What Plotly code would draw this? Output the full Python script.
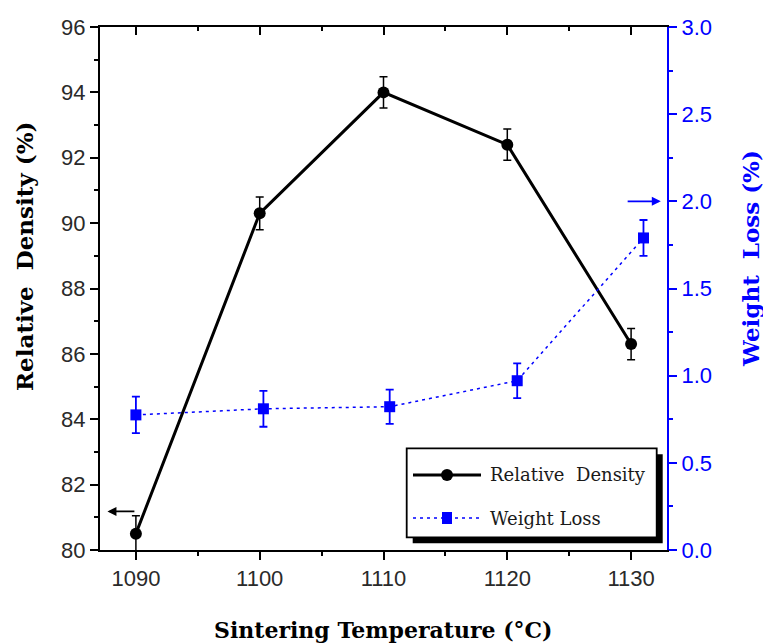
import plotly.graph_objects as go

# ---- data ----
temps_density = [1090, 1100, 1110, 1120, 1130]
density = [80.5, 90.3, 94.0, 92.4, 86.3]
density_err = [0.55, 0.5, 0.48, 0.48, 0.48]

temps_weight = [1090, 1100.3, 1110.5, 1120.8, 1131.0]
weight_loss = [0.775, 0.81, 0.822, 0.971, 1.79]
weight_err = [0.105, 0.103, 0.098, 0.1, 0.103]

x_ticks = [1090, 1100, 1110, 1120, 1130]
left_ticks = [80, 82, 84, 86, 88, 90, 92, 94, 96]
right_ticks = [0.0, 0.5, 1.0, 1.5, 2.0, 2.5, 3.0]

series_names = ["Relative  Density", "Weight Loss"]

# ---- geometry ----
W, H = 763, 643
L, R, T, B = 100, 96, 27, 93
PW, PH = W - L - R, H - T - B


def px(xp):
    return (xp - L) / PW


def py(yp):
    return (H - B - yp) / PH


BLUE = "#0000ff"
TICKFONT = dict(family="Liberation Sans, Arial, sans-serif", size=22, color="#2a2a2a")
TITLEFONT = "DejaVu Serif, serif"

fig = go.Figure()

fig.add_trace(go.Scatter(
    x=temps_weight, y=weight_loss, yaxis="y2", mode="lines+markers",
    name=series_names[1],
    line=dict(color=BLUE, width=1.5, dash="3px,4px"),
    marker=dict(symbol="square", size=11, color=BLUE),
    error_y=dict(type="data", array=weight_err, visible=True, color=BLUE, thickness=1.8, width=4),
    showlegend=False,
))

fig.add_trace(go.Scatter(
    x=temps_density, y=density, mode="lines+markers",
    name=series_names[0],
    line=dict(color="black", width=3),
    marker=dict(symbol="circle", size=12, color="black"),
    error_y=dict(type="data", array=density_err, visible=True, color="black", thickness=1.5, width=4),
    showlegend=False,
))

# invisible trace to anchor the top axis
fig.add_trace(go.Scatter(x=[x_ticks[0]], y=[left_ticks[0]], xaxis="x2", mode="markers",
                         marker=dict(opacity=0), showlegend=False, hoverinfo="skip"))

xr = [1087.1, 1132.9]

fig.update_layout(
    width=W, height=H,
    margin=dict(l=L, r=R, t=T, b=B),
    paper_bgcolor="white", plot_bgcolor="white",
    showlegend=False,
    xaxis=dict(
        range=xr, tickvals=x_ticks, ticks="outside", ticklen=8, tickwidth=1.5,
        tickcolor="black", showline=True, linecolor="black", linewidth=2,
        showgrid=False, zeroline=False, tickfont=TICKFONT,
        minor=dict(ticks="outside", ticklen=4, dtick=5, tickcolor="black", tickwidth=1.5, showgrid=False),
    ),
    xaxis2=dict(
        range=xr, overlaying="x", side="top", tickvals=x_ticks, ticks="inside", ticklen=8,
        tickwidth=1.5, tickcolor="black", showline=True, linecolor="black", linewidth=2,
        showgrid=False, zeroline=False, showticklabels=False,
        minor=dict(ticks="inside", ticklen=4, dtick=5, tickcolor="black", tickwidth=1.5, showgrid=False),
    ),
    yaxis=dict(
        range=[80, 96], tickvals=left_ticks, ticks="outside", ticklen=8, tickwidth=1.5,
        tickcolor="black", showline=True, linecolor="black", linewidth=2,
        showgrid=False, zeroline=False, tickfont=TICKFONT,
        minor=dict(ticks="outside", ticklen=4, dtick=1, tickcolor="black", tickwidth=1.5, showgrid=False),
    ),
    yaxis2=dict(
        range=[0, 3], overlaying="y", side="right", tickvals=right_ticks,
        ticktext=[f"{v:.1f}" for v in right_ticks],
        ticks="outside", ticklen=8, tickwidth=1.5, tickcolor=BLUE,
        showline=True, linecolor=BLUE, linewidth=2,
        showgrid=False, zeroline=False, tickfont=dict(family=TICKFONT["family"], size=22, color=BLUE),
        minor=dict(ticks="outside", ticklen=4, dtick=0.25, tickcolor=BLUE, tickwidth=1.5, showgrid=False),
    ),
)

annotations = [
    dict(text="<b>Relative  Density (%)</b>", xref="paper", yref="paper", x=px(24), y=py(257),
         textangle=-90, showarrow=False, font=dict(family=TITLEFONT, size=23, color="black"),
         xanchor="center", yanchor="middle"),
    dict(text="<b>Weight  Loss (%)</b>", xref="paper", yref="paper", x=px(750), y=py(259),
         textangle=-90, showarrow=False, font=dict(family=TITLEFONT, size=23, color=BLUE),
         xanchor="center", yanchor="middle"),
    dict(text="<b>Sintering Temperature (°C)</b>", xref="paper", yref="paper", x=px(383), y=py(630),
         showarrow=False, font=dict(family=TITLEFONT, size=22, color="black"),
         xanchor="center", yanchor="middle"),
    # axis indicator arrows
    dict(x=1087.7, y=81.18, xref="x", yref="y", ax=1090, ay=81.18, axref="x", ayref="y",
         text="", showarrow=True, arrowhead=2, arrowsize=1, arrowwidth=1.8, arrowcolor="black"),
    dict(x=1132.4, y=2.0, xref="x", yref="y2", ax=1129.6, ay=2.0, axref="x", ayref="y2",
         text="", showarrow=True, arrowhead=2, arrowsize=1, arrowwidth=1.8, arrowcolor=BLUE),
    # legend text
    dict(text=series_names[0], xref="paper", yref="paper", x=px(488), y=py(475), showarrow=False,
         xanchor="left", yanchor="middle", font=dict(family=TITLEFONT, size=18, color="#1a1a1a")),
    dict(text=series_names[1], xref="paper", yref="paper", x=px(488), y=py(518), showarrow=False,
         xanchor="left", yanchor="middle", font=dict(family=TITLEFONT, size=18, color="#1a1a1a")),
]
fig.update_layout(annotations=annotations)

lx0, lx1, ly0, ly1 = 406.7, 656.7, 448.3, 537.3
sh = 6
shapes = [
    # legend shadow
    dict(type="rect", xref="paper", yref="paper", x0=px(lx0 + sh), x1=px(lx1 + sh), y0=py(ly1 + sh), y1=py(ly0 + sh),
         fillcolor="black", line=dict(width=0), layer="above"),
    # legend box
    dict(type="rect", xref="paper", yref="paper", x0=px(lx0), x1=px(lx1), y0=py(ly1), y1=py(ly0),
         fillcolor="white", line=dict(color="black", width=1.8), layer="above"),
    # legend samples
    dict(type="line", xref="paper", yref="paper", x0=px(413), x1=px(481), y0=py(475), y1=py(475),
         line=dict(color="black", width=3), layer="above"),
    dict(type="circle", xref="paper", yref="paper", x0=px(447 - 6), x1=px(447 + 6), y0=py(475 + 6), y1=py(475 - 6),
         fillcolor="black", line=dict(width=0), layer="above"),
    dict(type="line", xref="paper", yref="paper", x0=px(413), x1=px(481), y0=py(518), y1=py(518),
         line=dict(color=BLUE, width=1.5, dash="3px,4px"), layer="above"),
    dict(type="rect", xref="paper", yref="paper", x0=px(442), x1=px(452), y0=py(524), y1=py(512),
         fillcolor=BLUE, line=dict(width=0), layer="above"),
]
fig.update_layout(shapes=shapes)

fig.write_html("out.html")
